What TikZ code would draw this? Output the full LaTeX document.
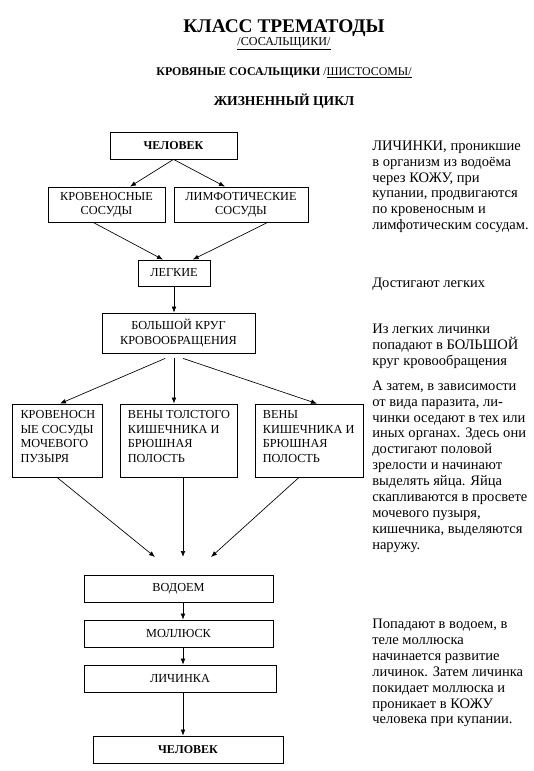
\documentclass[tikz,border=0pt]{standalone}
\usepackage{fontspec}
\setmainfont{Liberation Serif}
\usetikzlibrary{arrows.meta}

\newcommand\boxfont{\fontsize{9.2}{10.8}\selectfont}
\newcommand\notefont{\fontsize{10.9}{11.9}\selectfont}

\begin{document}
\begin{tikzpicture}[x=0.75pt,y=-0.75pt,
    box/.style={draw,line width=0.6pt,inner sep=0pt,align=center,font=\boxfont},
    boxtext/.style={anchor=north west,inner sep=0pt,align=left,font=\boxfont},
    note/.style={anchor=north west,inner sep=0pt,align=left,font=\notefont},
    arr/.style={-{Latex[length=4.5pt,width=3.5pt]},line width=0.5pt}]
  \useasboundingbox (0,0) rectangle (534,771);
  % titles
  \node[anchor=base,inner sep=0pt,font=\fontsize{14.5}{16}\selectfont\bfseries] (title) at (284,32) {КЛАСС ТРЕМАТОДЫ};
  \node[anchor=base,inner sep=0pt,font=\fontsize{9.1}{10}\selectfont] (sub) at (284,45) {\underline{/СОСАЛЬЩИКИ/}};
  \node[anchor=base,inner sep=0pt,font=\fontsize{8.9}{11}\selectfont] (kind) at (284,75) {\textbf{КРОВЯНЫЕ СОСАЛЬЩИКИ} /\underline{ШИСТОСОМЫ/}};
  \node[anchor=base,inner sep=0pt,font=\fontsize{10.2}{12}\selectfont\bfseries] (cycle) at (284,105) {ЖИЗНЕННЫЙ ЦИКЛ};

  % upper part of the cycle
  \node[box,minimum width=95.25pt,minimum height=20.25pt,font=\fontsize{9}{10.8}\selectfont\bfseries] (chel1) at (173.5,145.5) {ЧЕЛОВЕК};
  \node[box,minimum width=87.75pt,minimum height=26.25pt] (krov) at (106.5,204.5) {КРОВЕНОСНЫЕ\\СОСУДЫ};
  \node[box,minimum width=100.5pt,minimum height=26.25pt] (limf) at (241,204.5) {ЛИМФОТИЧЕСКИЕ\\СОСУДЫ};
  \node[box,minimum width=54pt,minimum height=19.5pt] (legk) at (174,273) {ЛЕГКИЕ};
  \node[box,minimum width=114.75pt,minimum height=30pt] (bkk) at (178.5,333) {БОЛЬШОЙ КРУГ\\КРОВООБРАЩЕНИЯ};

  \node[box,minimum width=67.5pt,minimum height=54.75pt] (b1) at (57,440.5) {};
  \node[box,minimum width=87.75pt,minimum height=54.75pt] (b2) at (178.5,440.5) {};
  \node[box,minimum width=81pt,minimum height=54.75pt] (b3) at (309,440.5) {};
  \node[boxtext] (t1) at ([shift={(6.5pt,-5.25pt)}]b1.north west) {КРОВЕНОСН\\ЫЕ СОСУДЫ\\МОЧЕВОГО\\ПУЗЫРЯ};
  \node[boxtext] (t2) at ([shift={(6pt,-5.25pt)}]b2.north west) {ВЕНЫ ТОЛСТОГО\\КИШЕЧНИКА И\\БРЮШНАЯ\\ПОЛОСТЬ};
  \node[boxtext] (t3) at ([shift={(6pt,-5.25pt)}]b3.north west) {ВЕНЫ\\КИШЕЧНИКА И\\БРЮШНАЯ\\ПОЛОСТЬ};

  % lower part of the cycle
  \coordinate (m1) at (155,557);
  \coordinate (m2) at (183,557);
  \coordinate (m3) at (211,557);
  \node[box,minimum width=141.75pt,minimum height=20.25pt] (vod) at (178.5,588.5) {ВОДОЕМ};
  \node[box,minimum width=141.75pt,minimum height=20.25pt] (mol) at (178.5,633.5) {МОЛЛЮСК};
  \node[box,minimum width=144pt,minimum height=20.25pt] (lich) at (180,678.5) {ЛИЧИНКА};
  \node[box,minimum width=142.5pt,minimum height=20.25pt,font=\fontsize{9}{10.8}\selectfont\bfseries] (chel2) at (188,749.5) {ЧЕЛОВЕК};

  \draw[arr] (chel1.south) -- ([xshift=17.6pt]krov.north);
  \draw[arr] (chel1.south) -- ([xshift=-12pt]limf.north);
  \draw[arr] ([xshift=-10pt]krov.south) -- ([xshift=-8.25pt]legk.north);
  \draw[arr] ([xshift=20pt]limf.south) -- ([xshift=14pt]legk.north);
  \draw[arr] (legk.south) -- (legk.south |- bkk.north);
  \draw[arr] ([xshift=-10pt,yshift=-3.75pt]bkk.south) -- ([xshift=2.25pt]b1.north);
  \draw[arr] ([xshift=-3.4pt,yshift=-3.75pt]bkk.south) -- ([xshift=-3.4pt]b2.north);
  \draw[arr] ([xshift=3.4pt,yshift=-3.75pt]bkk.south) -- ([xshift=6pt]b3.north);
  \draw[arr] (b1.south) -- (m1);
  \draw[arr] (b2.south -| m2) -- (m2);
  \draw[arr] ([xshift=-7.5pt]b3.south) -- (m3);
  \draw[arr] (vod.south -| m2) -- (mol.north -| m2);
  \draw[arr] (mol.south -| m2) -- (lich.north -| m2);
  \draw[arr] (lich.south -| m2) -- (chel2.north -| m2);

  % notes on the right
  \node[note] (n1) at (372,140.5) {ЛИЧИНКИ, проникшие\\в организм из водоёма\\через КОЖУ, при\\купании, продвигаются\\по кровеносным и\\лимфотическим сосудам.};
  \node[note] (n2) at (372,278) {Достигают легких};
  \node[note] (n3) at (372,323.5) {Из легких личинки\\попадают в БОЛЬШОЙ\\круг кровообращения};
  \node[note] (n4) at (372,380.5) {А затем, в зависимости\\от вида паразита, ли-\\чинки оседают в тех или\\иных органах. Здесь они\\достигают половой\\зрелости и начинают\\выделять яйца. Яйца\\скапливаются в просвете\\мочевого пузыря,\\кишечника, выделяются\\наружу.};
  \node[note] (n5) at (372,619) {Попадают в водоем, в\\теле моллюска\\начинается развитие\\личинок. Затем личинка\\покидает моллюска и\\проникает в КОЖУ\\человека при купании.};
\end{tikzpicture}
\end{document}
